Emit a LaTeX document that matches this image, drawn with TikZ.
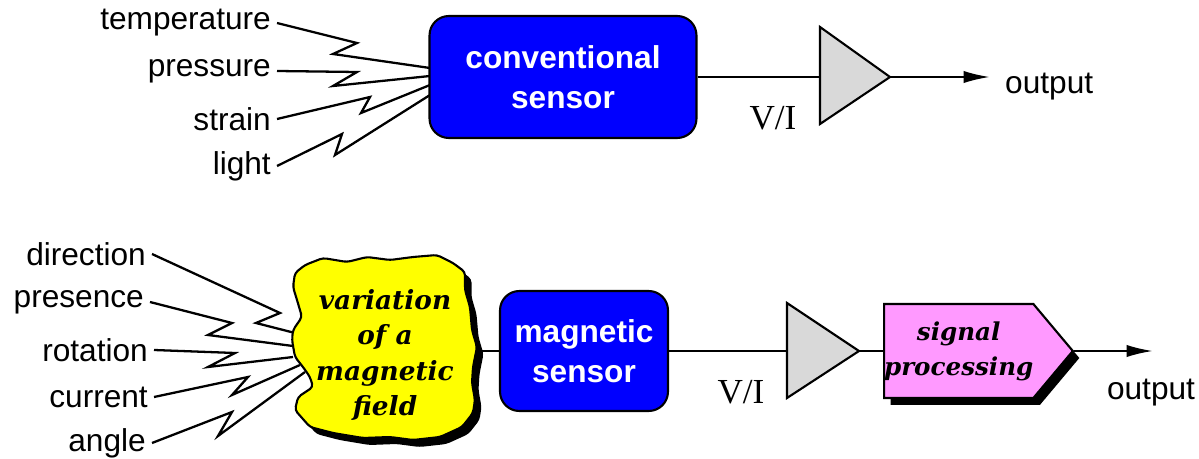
\documentclass[tikz,border=0pt]{standalone}
\usepackage{fontspec}
\setmainfont{Liberation Sans}
\newfontfamily\viFont{Liberation Serif}
\newfontfamily\bookFont{DejaVu Serif}
\usetikzlibrary{arrows.meta, shapes.symbols, shadows}
\definecolor{mBlue}{HTML}{0000FF}
\definecolor{mYellow}{HTML}{FFFF00}
\definecolor{mPink}{HTML}{FF99FF}
\definecolor{mGray}{HTML}{D9D9D9}
\tikzset{
  lbl/.style={anchor=east, font=\fontsize{18}{22}\selectfont},
  sensor/.style={draw, line width=1.2pt, rounded corners=11pt, fill=mBlue,
                 text=white, align=center, inner sep=0pt,
                 font=\fontsize{18}{23}\selectfont\bfseries},
  amp/.style={draw, line width=1.2pt, fill=mGray, line join=miter},
  zig/.style={line width=1.3pt, line join=miter},
  wire/.style={line width=1.3pt},
  owire/.style={wire, -{Latex[length=15pt, width=7pt]}},
  vi/.style={font=\viFont\fontsize{20}{24}\selectfont},
  book/.style={align=center, font=\bookFont\bfseries\itshape\fontsize{15}{20}\selectfont},
  blk/.style={drop shadow={shadow xshift=0.13cm, shadow yshift=-0.14cm,
                           opacity=1, fill=black}},
}

\begin{document}
\begin{tikzpicture}[x=0.02cm, y=-0.02cm]
    \useasboundingbox (0,0) rectangle (1199,459);

    % conventional sensor
    \node[lbl] (temp)   at (277,23)  {temperature};
    \node[lbl] (pres)   at (277,71)  {pressure};
    \node[lbl] (strain) at (277,119) {strain};
    \node[lbl] (light)  at (277,166) {light};
    \coordinate (t1) at (430,68);
    \coordinate (t2) at (430,76);
    \coordinate (t3) at (430,85);
    \coordinate (t4) at (430,95);
    \draw[zig] (temp.east)   -- (357,43)  -- (333,54)  -- (t1);
    \draw[zig] (pres.east)   -- (357,72)  -- (333,86)  -- (t2);
    \draw[zig] (strain.east) -- (370,97)  -- (361,113) -- (t3);
    \draw[zig] (light.east)  -- (342,134) -- (335,155) -- (t4);
    \node[sensor, minimum width=5.34cm, minimum height=2.44cm] (conv) at (563,77)
      {conventional\\sensor};
    \coordinate (a1in)  at (820,77);
    \coordinate (a1out) at (890,77);
    \filldraw[amp] (820,27) -- (a1out) -- (820,124) -- cycle;
    \node[vi] (vi1) at (773,118) {V/I};
    \coordinate (tip1) at (990,77);
    \node[lbl, anchor=west] (out1) at (999,87) {output};
    \draw[wire]  (conv.east) -- (a1in);
    \draw[owire] (a1out) -- (tip1);

    % magnetic sensor
    \node[lbl] (dir)  at (152,254) {direction};
    \node[lbl] (prs)  at (150,302) {presence};
    \node[lbl] (rot)  at (154,350) {rotation};
    \node[lbl] (cur)  at (154,397) {current};
    \node[lbl] (ang)  at (152,443) {angle};
    \coordinate (b1) at (295,333);
    \coordinate (b2) at (293,346);
    \coordinate (b3) at (293,357);
    \coordinate (b4) at (300,365);
    \coordinate (b5) at (305,372);
    \draw[zig] (dir.east) -- (280,313) -- (256,323) -- (b1);
    \draw[zig] (prs.east) -- (232,323) -- (208,335) -- (b2);
    \draw[zig] (rot.east) -- (235,353) -- (208,367) -- (b3);
    \draw[zig] (cur.east) -- (248,377) -- (232,395) -- (b4);
    \draw[zig] (ang.east) -- (232,412) -- (218,436) -- (b5);
    \filldraw[blk, fill=mYellow, line width=1.2pt, rounded corners=2pt]
      (295,273) -- (305,265) -- (323,258) -- (347,262) -- (367,257)
      -- (390,260) -- (413,257) -- (437,255) -- (453,263) -- (465,272)
      -- (465,290) -- (470,307) -- (472,330) -- (477,347) -- (473,367)
      -- (472,383) -- (475,400) -- (473,413) -- (462,427) -- (440,437)
      -- (413,440) -- (390,437) -- (363,438) -- (333,433) -- (310,427)
      -- (295,410) -- (298,397) -- (313,387) -- (310,377) -- (303,367)
      -- (295,357) -- (292,340) -- (293,330) -- (302,317) -- (297,300)
      -- (293,287) -- cycle;
    \node[book] (field) at (385,355) {variation\\of a\\magnetic\\field};
    \coordinate (bout) at (477,351);
    \node[sensor, minimum width=3.36cm, minimum height=2.4cm] (mag) at (584,351)
      {magnetic\\sensor};
    \coordinate (a2in)  at (787,351);
    \coordinate (a2out) at (859,351);
    \filldraw[amp] (787,303) -- (a2out) -- (787,398) -- cycle;
    \node[vi] (vi2) at (741,392) {V/I};
    \node[signal, signal to=east, signal pointer angle=100, draw, fill=mPink,
          line width=1.2pt, blk, minimum width=3.76cm, minimum height=1.88cm,
          inner sep=0pt, anchor=west, book,
          font=\bookFont\bfseries\itshape\fontsize{14}{20}\selectfont] (sig) at (883,351)
      {signal\\processing};
    \coordinate (tip2) at (1153,351);
    \node[lbl, anchor=center] (out2) at (1151,393) {output};
    \draw[wire]  (bout) -- (mag.west);
    \draw[wire]  (mag.east) -- (a2in);
    \draw[wire]  (a2out) -- (sig.west);
    \draw[owire] (sig.east) -- (tip2);
\end{tikzpicture}
\end{document}
